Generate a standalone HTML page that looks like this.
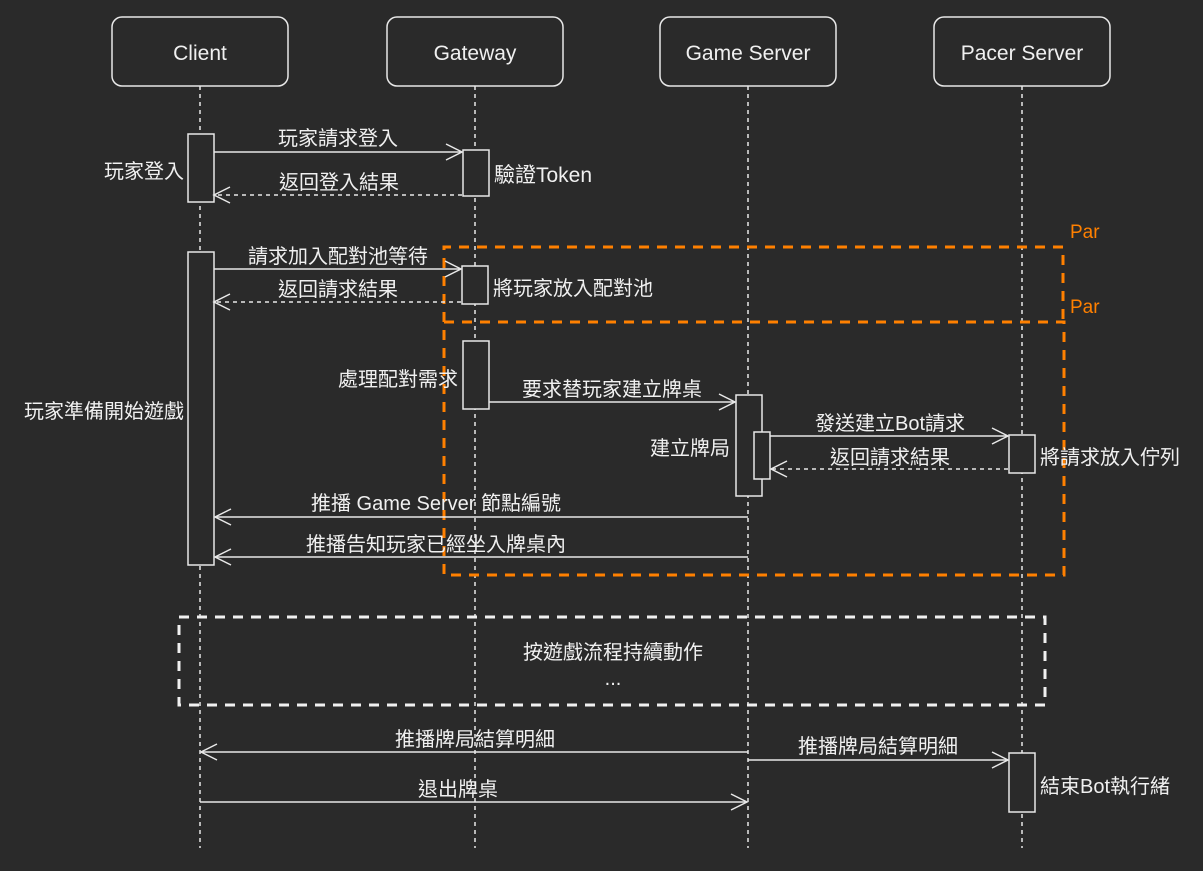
<!DOCTYPE html>
<html><head><meta charset="utf-8"><style>
html,body{margin:0;padding:0;background:#2a2a2a;}
svg text{font-family:"Liberation Sans","Noto Sans CJK TC",sans-serif;fill:#f0f0f0;font-size:20px;}
</style></head><body>
<svg width="1203" height="866" viewBox="0 0 1203 866" xmlns="http://www.w3.org/2000/svg">
<rect width="1203" height="866" fill="#2a2a2a"/>
<g stroke="#e8e8e8" stroke-width="1.5" stroke-dasharray="4,4" fill="none">
<line x1="200" y1="86" x2="200" y2="848"/>
<line x1="475" y1="86" x2="475" y2="848"/>
<line x1="748" y1="86" x2="748" y2="848"/>
<line x1="1022" y1="86" x2="1022" y2="848"/>
</g>
<g fill="#2a2a2a" stroke="#e8e8e8" stroke-width="1.5">
<rect x="112" y="17" width="176" height="69" rx="10"/>
<rect x="387" y="17" width="176" height="69" rx="10"/>
<rect x="660" y="17" width="176" height="69" rx="10"/>
<rect x="934" y="17" width="176" height="69" rx="10"/>
</g>
<g text-anchor="middle">
<text x="200" y="60" style="font-size:21px">Client</text>
<text x="475" y="60" style="font-size:21px">Gateway</text>
<text x="748" y="60" style="font-size:21px">Game Server</text>
<text x="1022" y="60" style="font-size:21px">Pacer Server</text>
</g>
<g stroke="#ff8000" stroke-width="3" stroke-dasharray="10,8" fill="none">
<path d="M444 322 V247 H1063 V322"/>
<rect x="444" y="322" width="620" height="253"/>
</g>
<text x="1070" y="238" style="fill:#ff8000;font-size:19px">Par</text>
<text x="1070" y="313" style="fill:#ff8000;font-size:19px">Par</text>
<rect x="179" y="617" width="866" height="88" fill="none" stroke="#f0f0f0" stroke-width="3" stroke-dasharray="10,8"/>
<text x="613" y="659" text-anchor="middle">按遊戲流程持續動作</text>
<text x="613" y="685" text-anchor="middle">...</text>
<g fill="#2a2a2a" stroke="#e8e8e8" stroke-width="1.5">
<rect x="188" y="134" width="26" height="68"/>
<rect x="463" y="150" width="26" height="46"/>
<rect x="188" y="252" width="26" height="313"/>
<rect x="462" y="266" width="26" height="38"/>
<rect x="463" y="341" width="26" height="68"/>
<rect x="736" y="395" width="26" height="101"/>
<rect x="754" y="432" width="16" height="47"/>
<rect x="1009" y="435" width="26" height="38"/>
<rect x="1009" y="753" width="26" height="59"/>
</g>
<g stroke="#e8e8e8" stroke-width="1.5" fill="none">
<line x1="214" y1="152" x2="462" y2="152"/><path d="M446 144 L462 152 L446 160"/>
<line x1="462" y1="195" x2="214" y2="195" stroke-dasharray="4,4"/><path d="M230 187 L214 195 L230 203"/>
<line x1="214" y1="269" x2="461" y2="269"/><path d="M445 261 L461 269 L445 277"/>
<line x1="461" y1="302" x2="214" y2="302" stroke-dasharray="4,4"/><path d="M230 294 L214 302 L230 310"/>
<line x1="489" y1="402" x2="735" y2="402"/><path d="M719 394 L735 402 L719 410"/>
<line x1="770" y1="436" x2="1008" y2="436"/><path d="M992 428 L1008 436 L992 444"/>
<line x1="1008" y1="469" x2="771" y2="469" stroke-dasharray="4,4"/><path d="M787 461 L771 469 L787 477"/>
<line x1="748" y1="517" x2="215" y2="517"/><path d="M231 509 L215 517 L231 525"/>
<line x1="748" y1="557" x2="215" y2="557"/><path d="M231 549 L215 557 L231 565"/>
<line x1="748" y1="752" x2="201" y2="752"/><path d="M217 744 L201 752 L217 760"/>
<line x1="748" y1="760" x2="1008" y2="760"/><path d="M992 752 L1008 760 L992 768"/>
<line x1="200" y1="802" x2="747" y2="802"/><path d="M731 794 L747 802 L731 810"/>
</g>
<g text-anchor="middle">
<text x="338" y="145">玩家請求登入</text>
<text x="339" y="189">返回登入結果</text>
<text x="338" y="263">請求加入配對池等待</text>
<text x="338" y="296">返回請求結果</text>
<text x="612" y="396">要求替玩家建立牌桌</text>
<text x="890" y="430">發送建立Bot請求</text>
<text x="890" y="464">返回請求結果</text>
<text x="436" y="510">推播 Game Server 節點編號</text>
<text x="436" y="551">推播告知玩家已經坐入牌桌內</text>
<text x="475" y="746">推播牌局結算明細</text>
<text x="878" y="753">推播牌局結算明細</text>
<text x="458" y="796">退出牌桌</text>
</g>
<g text-anchor="end">
<text x="184" y="178">玩家登入</text>
<text x="458" y="386">處理配對需求</text>
<text x="184" y="418">玩家準備開始遊戲</text>
<text x="730" y="455">建立牌局</text>
</g>
<text x="494" y="182" style="font-size:21px">驗證Token</text>
<text x="493" y="295">將玩家放入配對池</text>
<text x="1040" y="464">將請求放入佇列</text>
<text x="1040" y="793">結束Bot執行緒</text>
</svg>
</body></html>
